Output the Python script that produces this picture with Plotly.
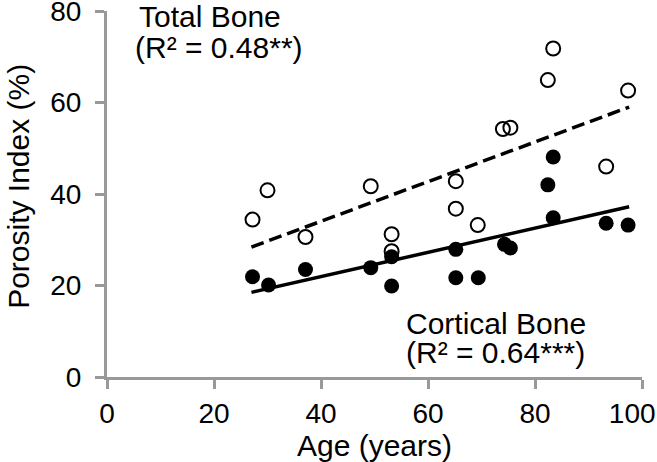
import plotly.graph_objects as go

# Total bone porosity (open circles)
total_age = [27.2, 30.0, 37.1, 49.3, 53.2, 53.2, 65.2, 65.2, 69.3, 74.0, 75.4, 82.4, 83.4, 93.3, 97.4]
total_pi = [34.4, 40.8, 30.6, 41.7, 31.2, 27.5, 42.8, 36.8, 33.2, 54.2, 54.5, 64.9, 71.8, 46.0, 62.6]

# Cortical bone porosity (filled circles)
cort_age = [27.2, 30.2, 37.1, 49.3, 53.2, 53.2, 65.2, 65.2, 69.4, 74.3, 75.4, 82.4, 83.4, 83.4, 93.3, 97.4]
cort_pi = [21.9, 20.1, 23.5, 23.9, 26.3, 19.9, 27.9, 21.7, 21.7, 29.0, 28.2, 42.0, 48.1, 34.8, 33.6, 33.2]

# Regression lines
fit_age = [27.0, 97.6]
total_fit = [28.4, 59.0]
cort_fit = [18.5, 37.2]

x_ticks = [0, 20, 40, 60, 80, 100]
x_tick_labels = ["0", "20", "40", "60", "80", "100\u2002\u2009"]
y_ticks = [0, 20, 40, 60, 80]

FONT = "Liberation Sans, Arial, sans-serif"
AXIS_GRAY = "#999999"

fig = go.Figure()
fig.add_trace(go.Scatter(x=fit_age, y=total_fit, mode="lines",
                         line=dict(color="black", width=3.5, dash="13px,6px"),
                         showlegend=False, hoverinfo="skip"))
fig.add_trace(go.Scatter(x=fit_age, y=cort_fit, mode="lines",
                         line=dict(color="black", width=3.5),
                         showlegend=False, hoverinfo="skip"))
fig.add_trace(go.Scatter(x=total_age, y=total_pi, mode="markers",
                         marker=dict(symbol="circle-open", size=14, color="black",
                                     line=dict(width=2, color="black")),
                         showlegend=False))
fig.add_trace(go.Scatter(x=cort_age, y=cort_pi, mode="markers",
                         marker=dict(symbol="circle", size=15, color="black"),
                         showlegend=False))

ann_font = dict(family=FONT, size=30, color="black")
annotations = [
    ("Total Bone", 5.6, 78.9),
    ("(R² = 0.48**)", 4.8, 72.1),
    ("Cortical Bone", 55.5, 11.8),
    ("(R² = 0.64***)", 55.5, 5.4),
]
for text, ax, ay in annotations:
    fig.add_annotation(x=ax, y=ay, xref="x", yref="y", text=text, showarrow=False,
                       xanchor="left", yanchor="middle", font=ann_font)

# y-axis title placed as a rotated annotation so it sits at the far left like the reference
fig.add_annotation(x=-0.166, y=0.52, xref="paper", yref="paper", text="Porosity Index (%)",
                   showarrow=False, textangle=-90, xanchor="center", yanchor="middle",
                   font=dict(family=FONT, size=30, color="black"))

axis_common = dict(showgrid=False, zeroline=False, showline=True, linecolor=AXIS_GRAY,
                   linewidth=3, ticks="outside", ticklen=9, tickwidth=2.5,
                   tickcolor=AXIS_GRAY, tickfont=dict(family=FONT, size=28, color="black"),
                   automargin=False, ticklabeloverflow="allow")

fig.update_layout(
    width=657, height=462,
    margin=dict(l=107, r=15, t=11, b=85),
    plot_bgcolor="white", paper_bgcolor="white",
    xaxis=dict(range=[0, 100], tickvals=x_ticks, ticktext=x_tick_labels,
               title=dict(text="Age (years)", font=dict(family=FONT, size=30, color="black"), standoff=0),
               **axis_common),
    yaxis=dict(range=[0, 80], tickvals=y_ticks, ticklabelstandoff=8, **axis_common),
)

fig.write_html("out.html", config={"displayModeBar": False},
               post_script="document.body.style.margin='0px';document.body.style.overflow='hidden';")
